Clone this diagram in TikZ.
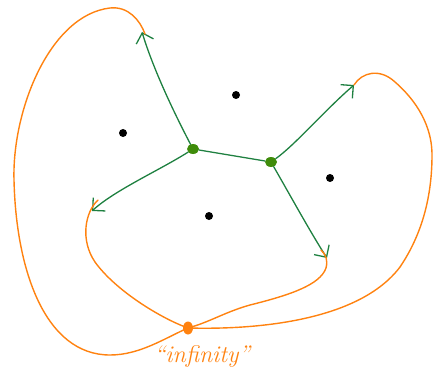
\documentclass[tikz,border=0pt]{standalone}
\usepackage{tikz}
\usetikzlibrary{arrows.meta, calc, shapes.geometric}
\definecolor{edge}{HTML}{1E8040}
\definecolor{vert}{HTML}{3F8C0A}
\definecolor{inf}{HTML}{FF8210}

\begin{document}
\begin{tikzpicture}[
    x=1pt, y=-1pt,
    line cap=round, line join=round,
    vtx/.style={ellipse, fill=vert, minimum width=12pt, minimum height=10pt, inner sep=0pt},
    face/.style={circle, fill=black, minimum size=8pt, inner sep=0pt},
    infpt/.style={ellipse, fill=inf, minimum width=10pt, minimum height=13pt, inner sep=0pt},
    ray/.style={draw=edge, line width=1.3pt, -{Straight Barb[length=9pt, width=18pt, line width=1.3pt]}},
    seg/.style={draw=edge, line width=1.3pt},
    loop/.style={draw=inf, line width=1.4pt},
    lab/.style={text=inf, font=\fontsize{24}{28}\selectfont\itshape},
  ]
  \useasboundingbox (0,0) rectangle (436,377);
  % ------------------------------------------------------------------ graph: two vertices, four half-edges
  \node[vtx] (A) at (193,149) {};
  \node[vtx] (B) at (271,162) {};
  \coordinate (tN) at (142,32);
  \coordinate (tW) at (92,211);
  \coordinate (tNE) at (354,85);
  \coordinate (tSE) at (327,258);
  \draw[seg] (A) -- (B);
  \draw[ray] (A) .. controls (170,105) and (152,65) .. (tN);
  \draw[ray] (A) .. controls (160,170) and (115,190) .. (tW);
  \draw[ray] (B) .. controls (295,145) and (325,110) .. (tNE);
  \draw[ray] (B) .. controls (290,195) and (312,235) .. (tSE);
  % ------------------------------------------------------------------ faces
  \node[face] (f1) at (236,95) {};
  \node[face] (f2) at (123,133) {};
  \node[face] (f3) at (330,178) {};
  \node[face] (f4) at (209,216) {};
  % ------------------------------------------------------------------ the point at infinity
  \node[infpt] (I) at (188,328) {};
  \node[lab] (Ilab) at (202,356) {``infinity''};
  \coordinate (oN) at (145,34);
  \coordinate (oW) at (98,200);
  \coordinate (oNE) at (354,85);
  \coordinate (oSE) at (321,250);
  \draw[loop] (I.center) .. controls (165,338) and (140,355) .. (110,355)
    .. controls (45,355) and (16,270) .. (14,180)
    .. controls (12,110) and (50,15) .. (110,8)
    .. controls (128,6) and (140,20) .. (oN);
  \draw[loop] (I.center) .. controls (160,318) and (115,290) .. (95,262)
    .. controls (80,240) and (85,212) .. (oW);
  \draw[loop] (I.center) .. controls (210,322) and (225,312) .. (250,305)
    .. controls (290,295) and (320,285) .. (326,268)
    .. controls (328,260) and (326,255) .. (oSE);
  \draw[loop] (I.center) .. controls (260,330) and (360,320) .. (400,267)
    .. controls (425,230) and (432,190) .. (432,155)
    .. controls (432,120) and (410,95) .. (395,82)
    .. controls (380,68) and (362,72) .. (oNE);
\end{tikzpicture}
\end{document}
